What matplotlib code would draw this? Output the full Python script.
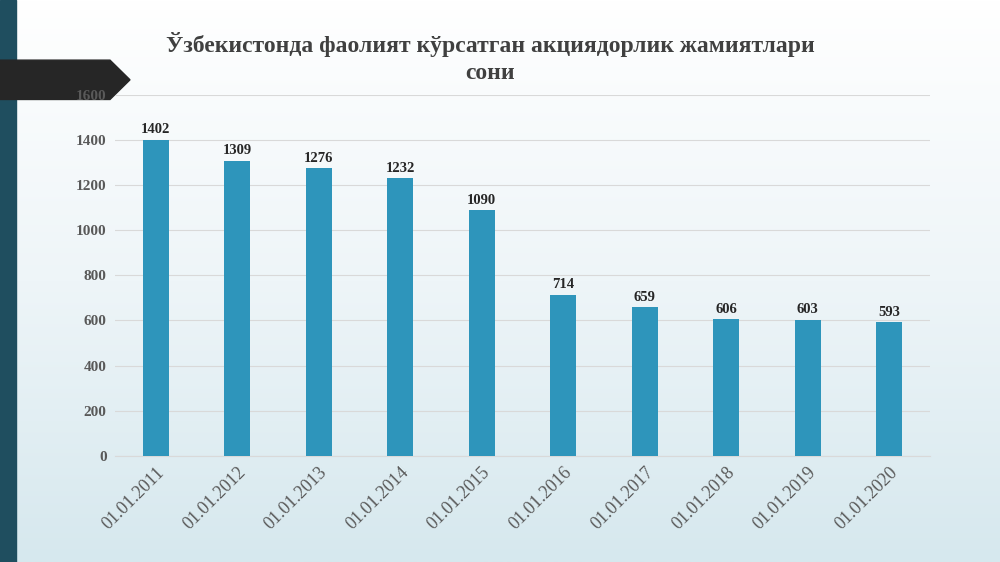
import matplotlib
matplotlib.use("Agg")
import matplotlib.pyplot as plt
import numpy as np
from matplotlib.patches import Polygon, Rectangle

categories = ["01.01.2011","01.01.2012","01.01.2013","01.01.2014","01.01.2015",
              "01.01.2016","01.01.2017","01.01.2018","01.01.2019","01.01.2020"]
values = [1402, 1309, 1276, 1232, 1090, 714, 659, 606, 603, 593]
yticks = [0, 200, 400, 600, 800, 1000, 1200, 1400, 1600]
title = "Ўзбекистонда фаолият кўрсатган акциядорлик жамиятлари\nсони"

fig = plt.figure(figsize=(10, 5.62), dpi=100)
bg = fig.add_axes([0, 0, 1, 1], zorder=-10)
grad = np.linspace(0, 1, 256).reshape(-1, 1)
from matplotlib.colors import LinearSegmentedColormap
cm = LinearSegmentedColormap.from_list("bg", ["#ffffff", "#eef5f8", "#d6e8ee"])
bg.imshow(grad, aspect="auto", cmap=cm, extent=[0, 1, 0, 1], origin="upper")
bg.add_patch(Rectangle((0, 0), 0.016, 1, color="#1f4e5f"))
bg.add_patch(Polygon([[0, 0.823], [0.11, 0.823], [0.13, 0.858], [0.11, 0.893], [0, 0.893]],
                     closed=True, color="#262626"))
bg.set_xlim(0, 1); bg.set_ylim(0, 1); bg.axis("off")

ax = fig.add_axes([0.115, 0.189, 0.815, 0.642])
ax.patch.set_alpha(0)
x = np.arange(len(values))
ax.bar(x, values, width=0.32, color="#2E95BB", zorder=3)
for xi, v in zip(x, values):
    ax.text(xi, v + 15, str(v), ha="center", va="bottom", fontsize=10.5,
            fontweight="bold", family="Liberation Serif", color="#262626")
ax.set_xlim(-0.5, 9.5)
ax.set_ylim(0, 1600)
ax.set_yticks(yticks)
ax.set_yticklabels([str(t) for t in yticks], fontsize=11, fontweight="bold",
                   family="Liberation Serif", color="#595959")
ax.set_xticks(x)
ax.set_xticklabels(categories, rotation=45, ha="right", rotation_mode="anchor",
                   fontsize=13, family="Liberation Serif", color="#595959")
ax.grid(axis="y", color="#d9d9d9", lw=0.8, zorder=0)
for s in ["top", "right", "left"]:
    ax.spines[s].set_visible(False)
ax.spines["bottom"].set_color("#d9d9d9")
ax.tick_params(axis="both", length=0, pad=6)
fig.text(0.49, 0.897, title, ha="center", va="center", fontsize=17, fontweight="bold",
         family="Liberation Serif", color="#404040", linespacing=1.4)
fig.savefig("out.png", dpi=100)
